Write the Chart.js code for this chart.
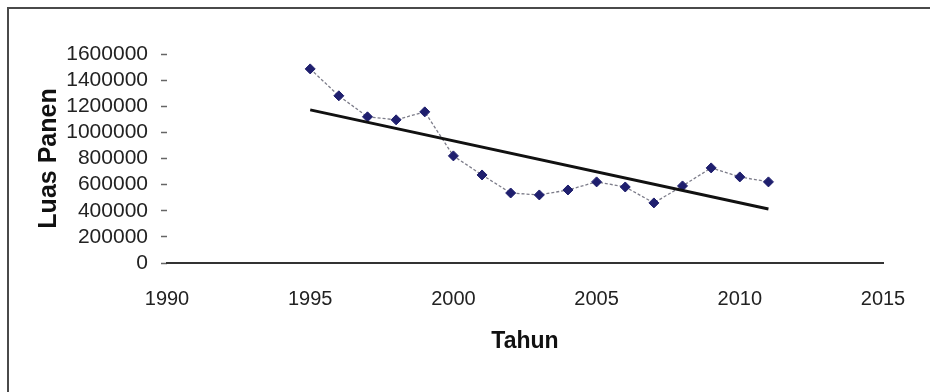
<!DOCTYPE html>
<html>
<head>
<meta charset="utf-8">
<script src="https://cdn.jsdelivr.net/npm/chart.js@4"></script>
<style>
  html, body { margin: 0; padding: 0; background: #fff; }
  #wrap { position: relative; width: 930px; height: 392px; }
</style>
</head>
<body>
<div id="wrap"><canvas id="c" width="930" height="392"></canvas></div>
<script>
// Data
const years = [1995, 1996, 1997, 1998, 1999, 2000, 2001, 2002, 2003, 2004, 2005, 2006, 2007, 2008, 2009, 2010, 2011];
const luasPanen = [1486000, 1280000, 1119000, 1096000, 1157000, 820000, 674000, 536000, 521000, 559000, 621000, 582000, 460000, 590000, 728000, 659000, 621000];
const trendYears = [1995, 2011];
const trendValues = [1172000, 414000];
const xTicks = [1990, 1995, 2000, 2005, 2010, 2015];
const yTicks = [0, 200000, 400000, 600000, 800000, 1000000, 1200000, 1400000, 1600000];
const xTitle = 'Tahun';
const yTitle = 'Luas Panen';

const FONT = "'Liberation Sans', Arial, sans-serif";

const frame = {
  id: 'frame',
  beforeDraw(chart) {
    const ctx = chart.ctx;
    ctx.save();
    ctx.fillStyle = '#ffffff';
    ctx.fillRect(0, 0, chart.width, chart.height);
    ctx.strokeStyle = '#4a4a4a';
    ctx.lineWidth = 2;
    ctx.beginPath();
    ctx.moveTo(8, chart.height);
    ctx.lineTo(8, 8);
    ctx.lineTo(chart.width, 8);
    ctx.stroke();
    ctx.restore();
  }
};

new Chart(document.getElementById('c'), {
  type: 'scatter',
  data: {
    datasets: [
      {
        label: 'Luas Panen',
        data: years.map((y, i) => ({ x: y, y: luasPanen[i] })),
        showLine: true,
        borderColor: '#7d7d8a',
        borderWidth: 1.3,
        borderDash: [3, 2],
        pointStyle: 'rectRot',
        pointRadius: 5,
        pointBackgroundColor: '#1f1f6e',
        pointBorderColor: '#1f1f6e',
        pointBorderWidth: 1,
        order: 2
      },
      {
        label: 'Trend',
        data: trendYears.map((y, i) => ({ x: y, y: trendValues[i] })),
        showLine: true,
        borderColor: '#111111',
        borderWidth: 3,
        pointRadius: 0,
        order: 1
      }
    ]
  },
  options: {
    responsive: false,
    animation: false,
    devicePixelRatio: 1,
    layout: { padding: { left: 0, right: 47, top: 54, bottom: 37 } },
    plugins: { legend: { display: false }, tooltip: { enabled: false } },
    scales: {
      x: {
        type: 'linear',
        min: xTicks[0],
        max: xTicks[xTicks.length - 1],
        afterBuildTicks: s => { s.ticks = xTicks.map(v => ({ value: v })); },
        afterFit: s => { s.height = 92; },
        grid: { drawOnChartArea: false, drawTicks: false },
        border: { display: true, color: '#333333', width: 2 },
        ticks: {
          autoSkip: false,
          color: '#222222',
          padding: 24,
          maxRotation: 0,
          font: { family: FONT, size: 20 },
          callback: v => String(v)
        },
        title: {
          display: true,
          text: xTitle,
          color: '#111111',
          padding: { top: 0, bottom: 0 },
          font: { family: FONT, size: 23, weight: 'bold' }
        }
      },
      y: {
        type: 'linear',
        min: yTicks[0],
        max: yTicks[yTicks.length - 1],
        afterBuildTicks: s => { s.ticks = yTicks.map(v => ({ value: v })); },
        afterFit: s => { s.width = 167; },
        grid: { drawOnChartArea: false, drawTicks: true, tickLength: 6, tickColor: '#666666', tickWidth: 1.5 },
        border: { display: false },
        ticks: {
          autoSkip: false,
          color: '#222222',
          padding: 13,
          font: { family: FONT, size: 21 },
          callback: v => String(v)
        },
        title: {
          display: true,
          text: yTitle,
          color: '#111111',
          padding: { top: 34, bottom: 0 },
          font: { family: FONT, size: 25, weight: 'bold' }
        }
      }
    }
  },
  plugins: [frame]
});
</script>
</body>
</html>
